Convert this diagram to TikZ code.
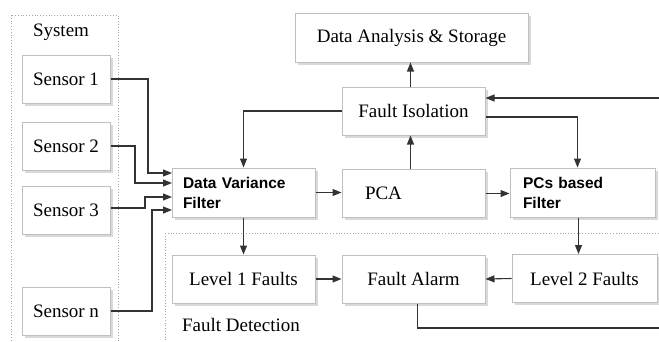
\documentclass[tikz,border=0pt]{standalone}
\usepackage{fontspec}
\setmainfont{Liberation Serif}
\setsansfont{Liberation Sans}
\usetikzlibrary{arrows.meta,shadows}

\begin{document}
\begin{tikzpicture}[x=1pt,y=-1pt,
  box/.style={draw=gray!50, fill=white, line width=1pt, minimum height=48pt, inner sep=0pt,
    font=\fontsize{19}{22}\selectfont,
    drop shadow={shadow xshift=2.5pt, shadow yshift=-2.5pt, opacity=.3, fill=gray}},
  fbox/.style={box, align=left, font=\fontsize{15.5}{20}\selectfont\sffamily\bfseries},
  frame/.style={draw=gray!70, dotted, line width=0.8pt},
  arr/.style={-{Triangle[length=9pt,width=7pt]}, line width=1.1pt, draw=black!80},
  lin/.style={line width=1.1pt, draw=black!80}]
\useasboundingbox (0,0) rectangle (659,341);

%% cornici
\draw[frame] (11,15) rectangle (118,350);
\draw[frame] (165,233) rectangle (670,350);
\node[font=\fontsize{19}{22}\selectfont] (syslab) at (61,32) {System};
\node[font=\fontsize{19}{22}\selectfont] (fdlab) at (241,325) {Fault Detection};

%% sensori
\node[box, minimum width=88pt] (s1) at (66,79) {Sensor 1};
\node[box, minimum width=88pt] (s2) at (66,146) {Sensor 2};
\node[box, minimum width=88pt] (s3) at (66,210) {Sensor 3};
\node[box, minimum width=88pt] (sn) at (66,311) {Sensor n};

%% blocchi
\node[fbox, text width=121pt, inner xsep=11pt, minimum height=49pt] (dvf) at (243.5,192.5) {Data Variance\\Filter};
\node[box, text width=97pt, inner xsep=23pt, align=left] (pca) at (413.5,193.5) {PCA};
\node[fbox, text width=119pt, inner xsep=13pt, minimum height=49pt] (pcs) at (582.5,192.5) {PCs based\\Filter};
\node[box, minimum width=143pt] (fi) at (413.5,111) {Fault Isolation};
\node[box, minimum width=233pt, minimum height=49pt] (das) at (411.5,37.5) {Data Analysis \& Storage};
\node[box, minimum width=143pt] (l1) at (243.5,279) {Level 1 Faults};
\node[box, minimum width=143pt] (fa) at (413.5,279) {Fault Alarm};
\node[box, minimum width=145pt] (l2) at (584.5,278.5) {Level 2 Faults};

%% ingressi filtro
\coordinate (in1) at (172,173);
\coordinate (in2) at (172,183);
\coordinate (in3) at (172,197);
\coordinate (in4) at (172,210);
\coordinate (fbin) at (659,98);
\coordinate (fbout) at (659,328);

\draw[arr] (s1.east) -| ([xshift=-24pt]in1) -- (in1);
\draw[arr] (s2.east) -| ([xshift=-37pt]in2) -- (in2);
\draw[arr] ([yshift=2pt]s3.east) -| ([xshift=-27pt]in3) -- (in3);
\draw[arr] (sn.east) -| ([xshift=-20pt]in4) -- (in4);

\draw[arr] (dvf.east) -- (dvf.east -| pca.west);
\draw[arr] (pca.east) -- (pca.east -| pcs.west);
\draw[arr] ([xshift=-3pt]pca.north) -- ([xshift=-3pt]fi.south);
\draw[arr] ([xshift=-3pt]fi.north) -- ([xshift=-3pt]fi.north |- das.south);
\draw[arr] (fi.west) -| (dvf.north);
\draw[arr] ([yshift=-6pt]fi.east) -| ([xshift=-5pt]pcs.north);
\draw[arr] (fbin) -- (fbin -| fi.east);

\draw[arr] (dvf.south) -- (l1.north);
\draw[arr] ([xshift=-4pt]pcs.south) -- ([xshift=-4pt]pcs.south |- l2.north);
\draw[arr] (l1.east) -- (fa.west);
\draw[arr] (l2.west) -- (fa.east);
\draw[lin] ([xshift=4pt]fa.south) |- (fbout);

\end{tikzpicture}
\end{document}
